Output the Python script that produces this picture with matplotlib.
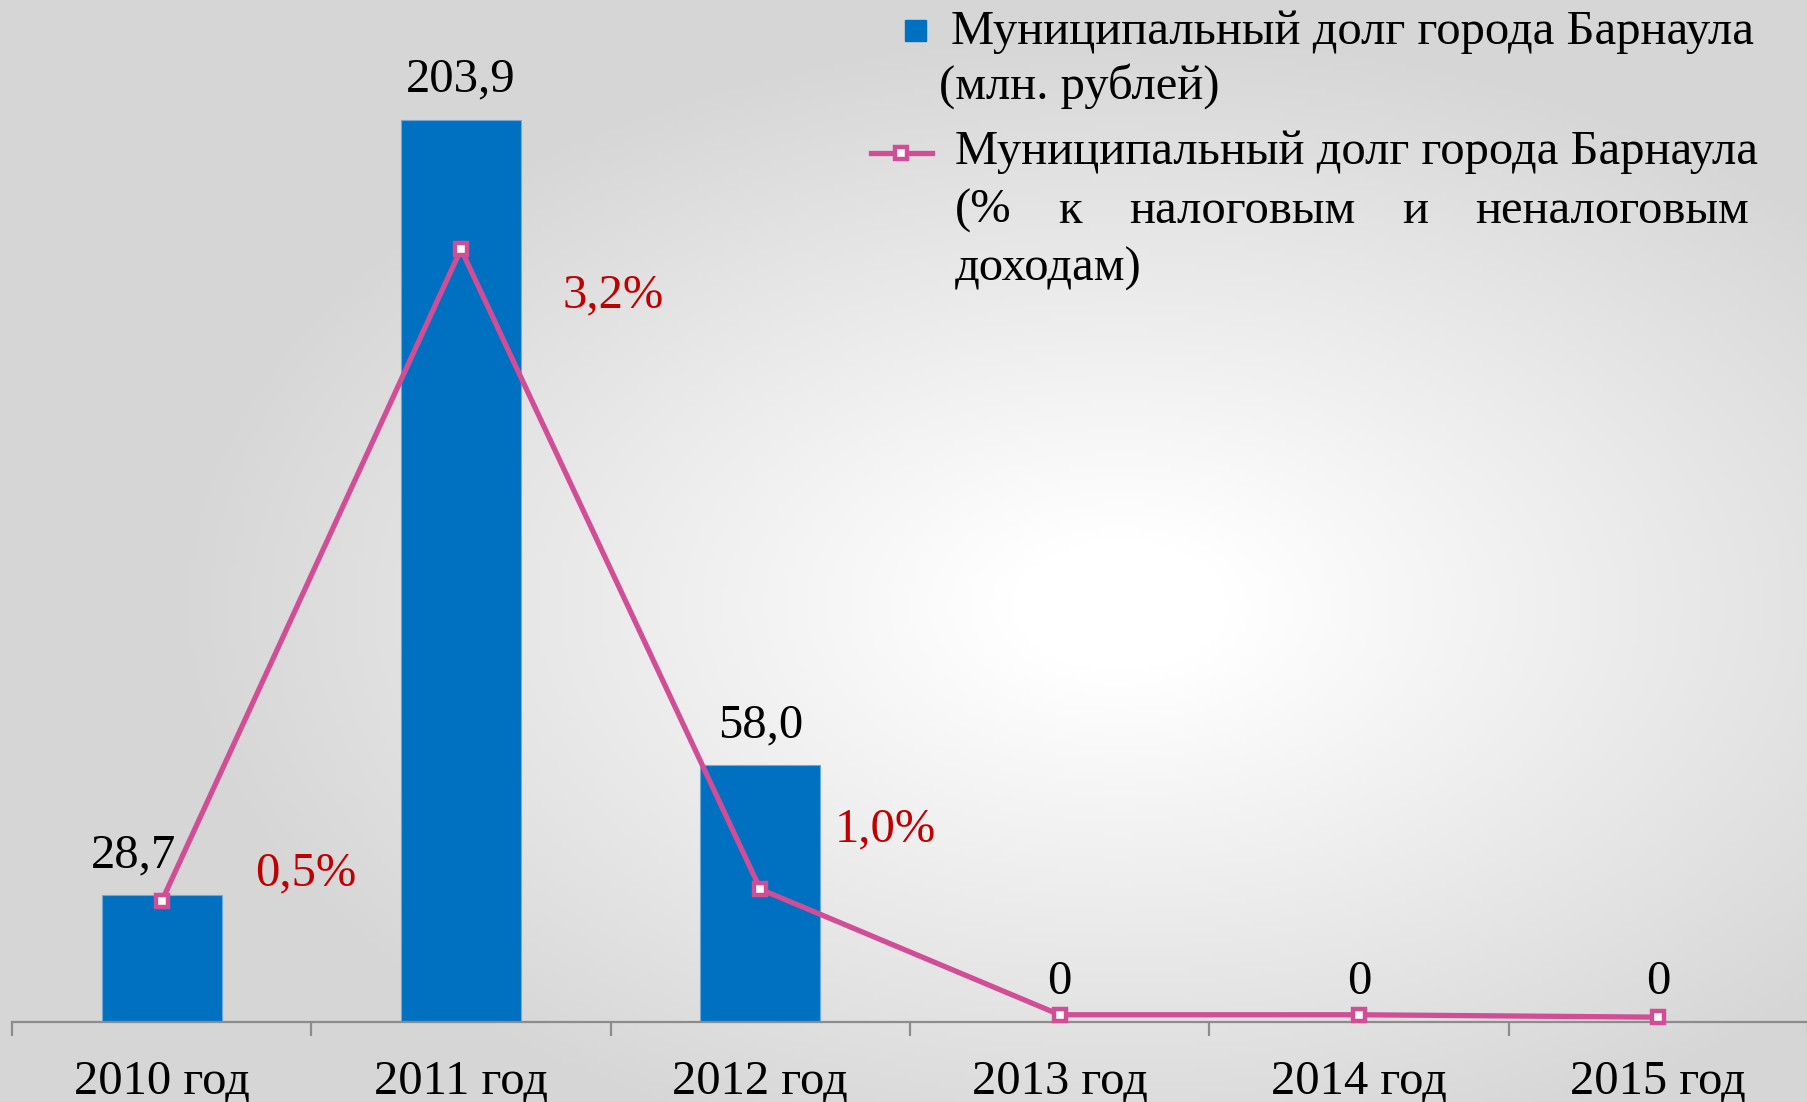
import matplotlib
matplotlib.use('Agg')
import matplotlib.pyplot as plt
import numpy as np
from matplotlib.lines import Line2D
from matplotlib.patches import Rectangle

##################### DATA #####################

years = ['2010 год', '2011 год', '2012 год', '2013 год', '2014 год', '2015 год']
debt_mln = [28.7, 203.9, 58.0, 0, 0, 0]                      # bars, млн. рублей
debt_labels = ['28,7', '203,9', '58,0', '0', '0', '0']
debt_pct = [0.5, 3.2, 0.55, 0.03, 0.03, 0.02]                # line, as drawn in the picture
pct_labels = ['0,5%', '3,2%', '1,0%']
legend_bar = ['Муниципальный долг города Барнаула', '(млн. рублей)']
legend_line = ['Муниципальный долг города Барнаула',
               '(% к налоговым и неналоговым',
               'доходам)']

################### STYLE #####################

plt.rcParams['font.family'] = ['Liberation Serif', 'DejaVu Serif']
BLUE = '#0070C0'
PINK = '#D14D96'
RED = '#C00000'
FS = 35
W, H = 1808, 1102

fig = plt.figure(figsize=(W / 100, H / 100), dpi=100)

# radial grey-to-white background
bg = fig.add_axes([0, 0, 1, 1], zorder=-10)
yy, xx = np.mgrid[0:1:220j, 0:1:360j]
d = np.sqrt(((xx - 0.62) / 0.75) ** 2 + ((yy - 0.55) / 0.75) ** 2)
shade = 1 - 0.16 * np.clip((d - 0.08) / 0.62, 0, 1)
bg.imshow(np.dstack([shade] * 3), aspect='auto', extent=[0, 1, 0, 1], origin='upper')
bg.axis('off')

# main axes
ax = fig.add_axes([12 / W, 1 - 1022 / H, 1 - 12 / W, 1022 / H])
ax.patch.set_alpha(0)
x = np.arange(len(years))
ax.bar(x, debt_mln, 0.4, color=BLUE, edgecolor='#6FA8DC', linewidth=0.8, zorder=2)
ax.set_xlim(-0.5, 5.5)
ax.set_ylim(0, 231.0)

for s in ['top', 'right', 'left']:
    ax.spines[s].set_visible(False)
ax.spines['bottom'].set_color('#8c8c8c')
ax.spines['bottom'].set_linewidth(1.6)
ax.set_yticks([])
ax.set_xticks(x, years, fontsize=FS)
ax.set_xticks(np.arange(-0.5, 6), minor=True)
ax.tick_params(axis='x', which='major', length=0, pad=27)
ax.tick_params(axis='x', which='minor', length=10, width=1.6, color='#8c8c8c')

# bar value labels
for i, (v, lab) in enumerate(zip(debt_mln, debt_labels)):
    dx = -28 if i == 0 else 0
    ax.annotate(lab, (i, v), xytext=(dx, 40), textcoords='offset pixels',
                ha='center', va='center', fontsize=FS, color='black')

# percent line on a second axis
ax2 = ax.twinx()
ax2.set_ylim(0, 4.232)
ax2.axis('off')
ax2.plot(x, debt_pct, color=PINK, linewidth=3.8, marker='s', markersize=9,
         markerfacecolor='white', markeredgecolor=PINK, markeredgewidth=3.2, zorder=3,
         clip_on=False)
pct_offsets = [(144, 28), (152, -46), (125, 60)]
for i, lab in enumerate(pct_labels):
    ax2.annotate(lab, (i, debt_pct[i]), xytext=pct_offsets[i], textcoords='offset pixels',
                 ha='center', va='center', fontsize=FS, color=RED)

# hand-made legend (text is justified in the original)
def fx(px):
    return px / W

def fy(py):
    return 1 - py / H

fig.add_artist(Rectangle((fx(905), fy(41)), 21 / W, 21 / H, color=BLUE,
                         transform=fig.transFigure))
fig.text(fx(951), fy(32), legend_bar[0], fontsize=FS, va='center', ha='left')
fig.text(fx(939), fy(86), legend_bar[1], fontsize=FS, va='center', ha='left')

fig.add_artist(Line2D([fx(871), fx(932)], [fy(153), fy(153)], color=PINK, linewidth=3.8,
                      transform=fig.transFigure))
fig.add_artist(Line2D([fx(901)], [fy(153)], color=PINK, marker='s', markersize=9,
                      markerfacecolor='white', markeredgewidth=3.2, transform=fig.transFigure))

renderer = fig.canvas.get_renderer()
left, right = 955, 1749
line_y = [152, 211, 269]
for k, line in enumerate(legend_line):
    if k == 1:
        words = line.split()
        texts = [fig.text(0, fy(line_y[k]), w_, fontsize=FS, va='center') for w_ in words]
        widths = [t.get_window_extent(renderer).width for t in texts]
        gap = (right - left - sum(widths)) / (len(words) - 1)
        pos = left
        for t, wd in zip(texts, widths):
            t.set_x(fx(pos))
            pos += wd + gap
    else:
        fig.text(fx(left), fy(line_y[k]), line, fontsize=FS, va='center', ha='left')

fig.savefig('out.png', dpi=100)
